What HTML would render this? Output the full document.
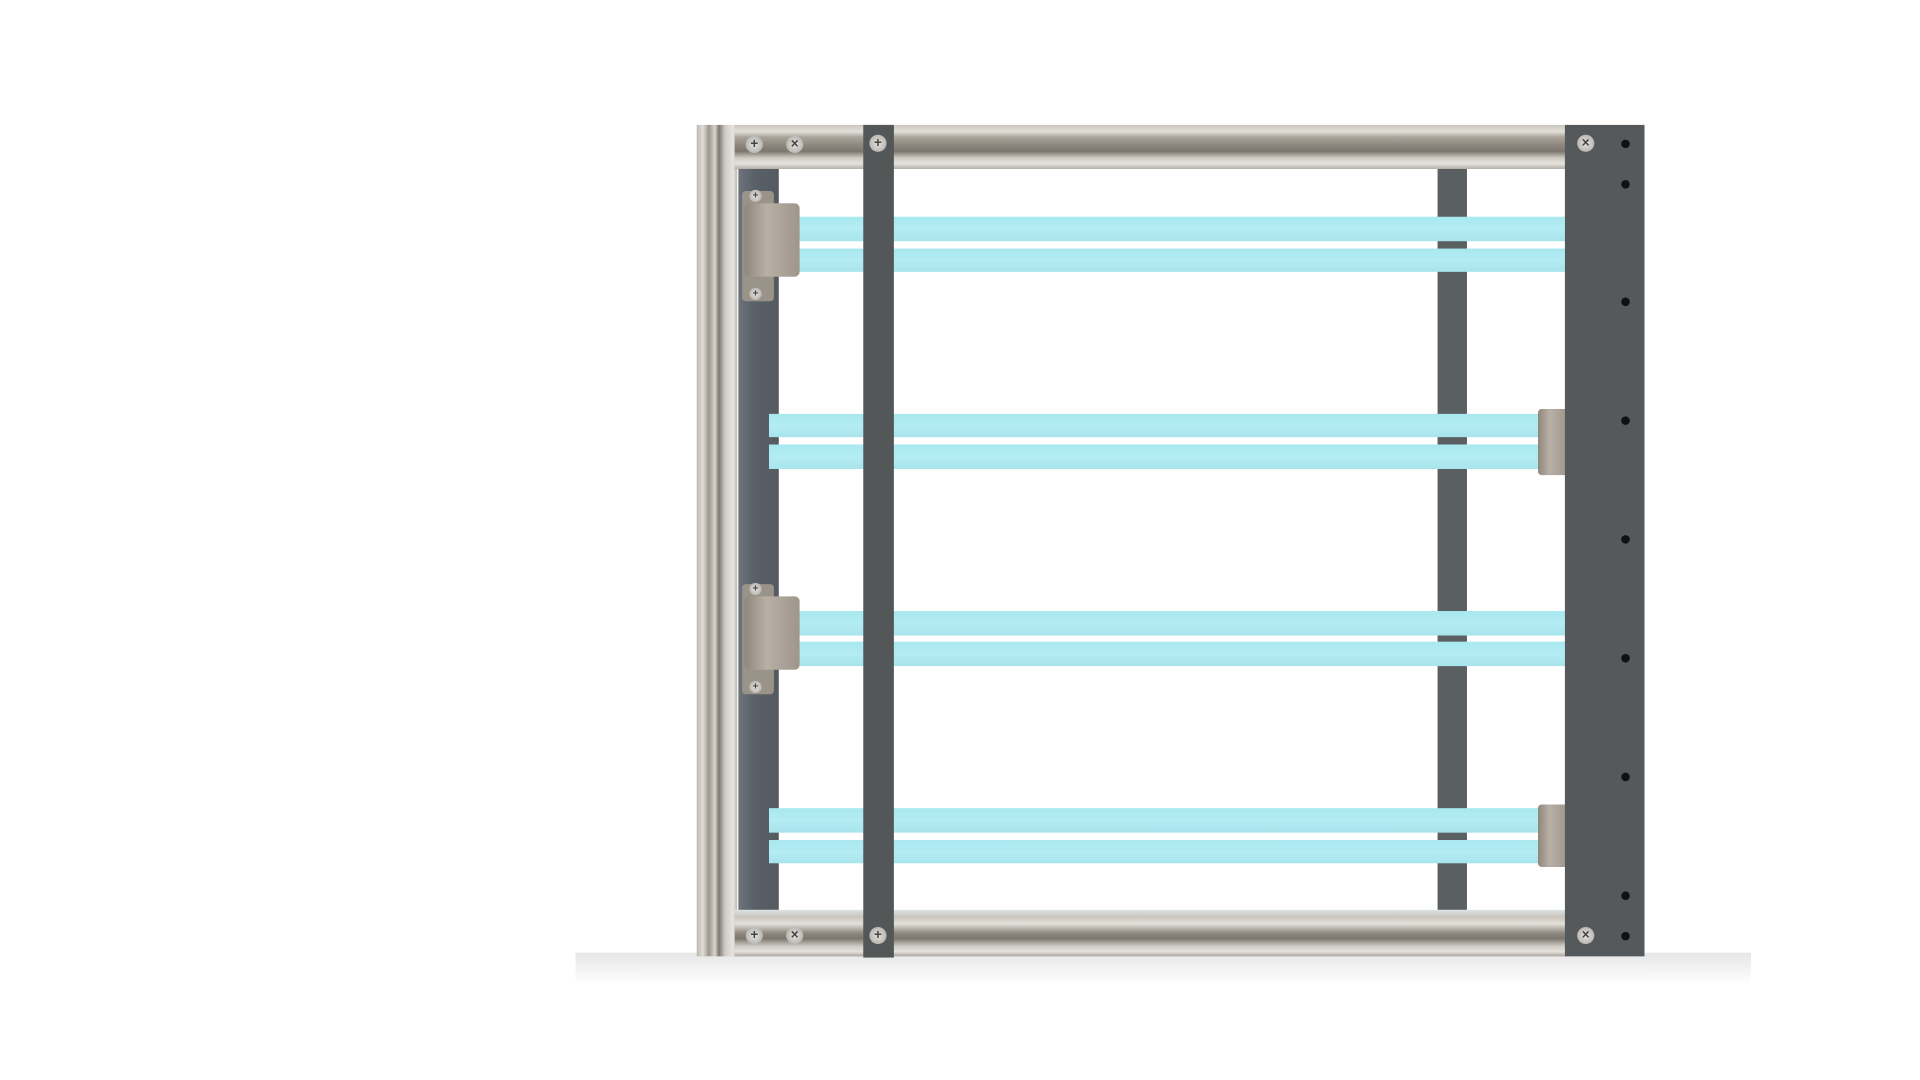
<!DOCTYPE html>
<html><head><meta charset="utf-8"><style>
html,body{margin:0;padding:0;background:#fff;width:1920px;height:1080px;overflow:hidden}
#s{position:absolute;left:0;top:0;width:1546px;height:870px;transform:scale(1.2245);transform-origin:0 0}
#s div{position:absolute}
.tube{background:linear-gradient(#a8e8ef,#b4ecf3 50%,#a8e4ec);}
.screw{width:14px;height:14px;border-radius:50%;background:radial-gradient(#e4e2df,#a9a6a1);font:bold 11px "Liberation Sans",sans-serif;color:#444;text-align:center;line-height:14px}
.hole{width:7px;height:7px;border-radius:50%;background:#111}
.sock{background:linear-gradient(90deg,#8f877d,#b8b0a5 40%,#9e968b)}
</style></head><body><div id="s">
<div style="left:470px;top:778px;width:960px;height:26px;background:linear-gradient(#e6e6e6,rgba(255,255,255,0));"></div>
<div style="left:569px;top:102px;width:33px;height:679px;background:linear-gradient(90deg,#bdb8b0,#e0ddd7 15%,#9c968c 30%,#d9d6d0 45%,#7d776f 55%,#cfcbc4 70%,#e6e4df 90%,#bdb8b0)"></div>
<div style="left:600px;top:102px;width:680px;height:36px;background:linear-gradient(#c9c5bd,#e3e0da 15%,#a9a39a 28%,#8e887f 45%,#7c766e 60%,#cfcbc4 75%,#e5e2dd 88%,#b3aea6)"></div>
<div style="left:600px;top:743px;width:680px;height:38px;background:linear-gradient(#dde3e6,#c9c5bd 15%,#e3e0da 30%,#8e887f 50%,#7c766e 62%,#cfcbc4 78%,#e5e2dd 90%,#a9a39a)"></div>
<div style="left:603px;top:138px;width:33px;height:605px;background:linear-gradient(90deg,#6d747c,#5a6068 40%,#555a60)"></div>
<div style="left:1174px;top:138px;width:24px;height:605px;background:#5a5f62"></div>
<div class="tube" style="left:652px;top:177px;width:626px;height:20px"></div>
<div class="tube" style="left:652px;top:203px;width:626px;height:19px"></div>
<div class="tube" style="left:628px;top:338px;width:628px;height:19px"></div>
<div class="tube" style="left:628px;top:363px;width:628px;height:20px"></div>
<div class="tube" style="left:652px;top:499px;width:626px;height:20px"></div>
<div class="tube" style="left:652px;top:524px;width:626px;height:20px"></div>
<div class="tube" style="left:628px;top:660px;width:628px;height:20px"></div>
<div class="tube" style="left:628px;top:686px;width:628px;height:19px"></div>
<div style="left:606px;top:156px;width:26px;height:90px;background:#9a9389;border-radius:3px"></div>
<div class="sock" style="left:608px;top:166px;width:45px;height:60px;border-radius:4px"></div>
<div style="left:606px;top:477px;width:26px;height:90px;background:#9a9389;border-radius:3px"></div>
<div class="sock" style="left:608px;top:487px;width:45px;height:60px;border-radius:4px"></div>
<div class="sock" style="left:1256px;top:334px;width:24px;height:54px;border-radius:3px 0 0 3px"></div>
<div class="sock" style="left:1256px;top:657px;width:24px;height:51px;border-radius:3px 0 0 3px"></div>
<div style="left:705px;top:102px;width:25px;height:680px;background:#545758"></div>
<div style="left:1278px;top:102px;width:65px;height:679px;background:#56595b"></div>
<div class="screw" style="left:609px;top:111px">+</div>
<div class="screw" style="left:642px;top:111px">×</div>
<div class="screw" style="left:710px;top:110px">+</div>
<div class="screw" style="left:609px;top:757px">+</div>
<div class="screw" style="left:642px;top:757px">×</div>
<div class="screw" style="left:710px;top:757px">+</div>
<div class="screw" style="left:1288px;top:110px">×</div>
<div class="screw" style="left:1288px;top:757px">×</div>
<div class="screw" style="left:612px;top:155px;width:10px;height:10px;line-height:10px;font-size:8px">+</div>
<div class="screw" style="left:612px;top:235px;width:10px;height:10px;line-height:10px;font-size:8px">+</div>
<div class="screw" style="left:612px;top:476px;width:10px;height:10px;line-height:10px;font-size:8px">+</div>
<div class="screw" style="left:612px;top:556px;width:10px;height:10px;line-height:10px;font-size:8px">+</div>
<div class="hole" style="left:1324px;top:114px"></div>
<div class="hole" style="left:1324px;top:147px"></div>
<div class="hole" style="left:1324px;top:243px"></div>
<div class="hole" style="left:1324px;top:340px"></div>
<div class="hole" style="left:1324px;top:437px"></div>
<div class="hole" style="left:1324px;top:534px"></div>
<div class="hole" style="left:1324px;top:631px"></div>
<div class="hole" style="left:1324px;top:728px"></div>
<div class="hole" style="left:1324px;top:761px"></div>
</div></body></html>
